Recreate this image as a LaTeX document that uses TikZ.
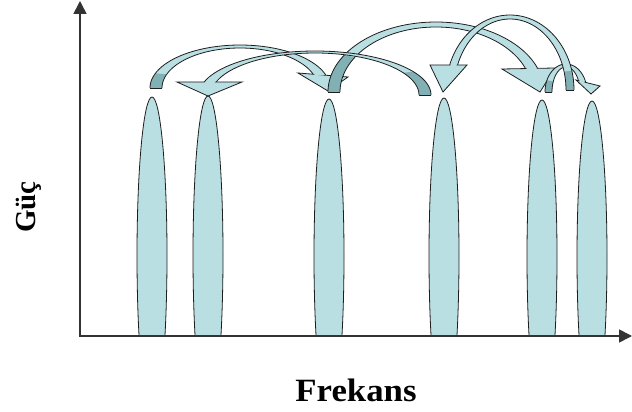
\documentclass[tikz,border=0pt]{standalone}
\usepackage{fontspec}
\setmainfont{Liberation Serif}
\usepackage{graphicx}
\usetikzlibrary{arrows.meta}
\definecolor{lightteal}{HTML}{B9DFE3}
\definecolor{darkteal}{HTML}{82B1B5}
\definecolor{edgecol}{HTML}{1E1E1E}
\tikzset{
  edgeline/.style={draw=edgecol, line width=0.8pt, line join=round},
  headshape/.style={fill=lightteal, draw=edgecol, line width=0.8pt, line join=miter},
  spikeshape/.style={fill=lightteal, draw=edgecol, line width=0.8pt},
  axisline/.style={draw=black!80, line width=1.6pt},
  labeltext/.style={font=\bfseries\fontsize{32.5}{34}\selectfont, inner sep=0pt},
}
% curved band: cx, cy, outer rx, outer ry, inner rx, inner ry, tail angle, dark-end angle, head angle
\newcommand{\arcband}[9]{%
  \fill[lightteal] plot[domain=#7:#9,samples=60] ({#1+#3*cos(\x)},{#2+#4*sin(\x)})
     -- plot[domain=#9:#7,samples=60] ({#1+#5*cos(\x)},{#2+#6*sin(\x)}) -- cycle;
  \fill[darkteal] plot[domain=#7:#8,samples=20] ({#1+#3*cos(\x)},{#2+#4*sin(\x)})
     -- plot[domain=#8:#7,samples=20] ({#1+#5*cos(\x)},{#2+#6*sin(\x)}) -- cycle;
  \draw[edgeline] plot[domain=#7:#9,samples=60] ({#1+#3*cos(\x)},{#2+#4*sin(\x)});
  \draw[edgeline] plot[domain=#7:#9,samples=60] ({#1+#5*cos(\x)},{#2+#6*sin(\x)});
  \draw[edgeline] ({#1+#3*cos(#7)},{#2+#4*sin(#7)}) -- ({#1+#5*cos(#7)},{#2+#6*sin(#7)});
}
% fill-only patch hiding the head base line inside the shaft
\newcommand{\bandpatch}[8]{%
  \fill[lightteal] plot[domain=#7:#8,samples=12] ({#1+(#3-1)*cos(\x)},{#2+(#4-0.6)*sin(\x)})
     -- plot[domain=#8:#7,samples=12] ({#1+(#5+1)*cos(\x)},{#2+(#6+0.6)*sin(\x)}) -- cycle;
}
\begin{document}
\begin{tikzpicture}[x=1pt,y=-1pt]
\useasboundingbox (0,0) rectangle (632,412);
\fill[white] (0,0) rectangle (632,412);

% spikes (channels)
\begin{scope}
  \clip (0,0) rectangle (632,335);
  \foreach \n/\sx/\st in {1/152/97, 2/208/96, 3/329/99, 4/444/98, 5/542/100, 6/592/101} {
    \pgfmathsetmacro\sb{(335-\st)/1.499}
    \path[spikeshape] (\sx,{\st+\sb}) ellipse [x radius=15, y radius=\sb];
    \coordinate (s\n) at (\sx,\st);
  }
\end{scope}

% axes
\coordinate (origin) at (80,336);
\coordinate (ytop) at (80,1);
\coordinate (xend) at (632,336);
\draw[axisline, -{Triangle[width=13pt,length=13pt]}] (origin) -- (ytop);
\draw[axisline, -{Triangle[width=13pt,length=13pt]}] (79.2,336) -- (xend);

% hop arrows
\coordinate (h1) at (328,91);
\coordinate (h2) at (208,96);
\coordinate (h3) at (540,92);
\coordinate (h4) at (443,92);
\coordinate (h5) at (591,94);

% 1: channel 1 -> channel 3
\arcband{240}{88}{90}{43}{78}{40}{180}{200}{342}
\filldraw[headshape] (298,73) -- (h1) -- (348,77) -- cycle;
\bandpatch{240}{88}{90}{43}{78}{40}{334}{342}

% 3: channel 3 -> channel 5
\arcband{436}{92}{108}{70}{96}{65}{180}{212}{341}
\filldraw[headshape] (502,69) -- (h3) -- (555,68) -- cycle;
\bandpatch{436}{92}{108}{70}{96}{65}{333}{341}

% 2: channel 4 -> channel 2
\arcband{315}{95}{116}{44}{104}{42}{360}{328}{196}
\filldraw[headshape] (177,82) -- (h2) -- (242,82) -- cycle;
\bandpatch{315}{95}{116}{44}{104}{42}{204}{196}

% 5: channel 5 -> channel 6
\arcband{566}{92}{21}{28}{14}{25}{180}{205}{340}
\filldraw[headshape] (576,80) -- (h5) -- (600,86) -- cycle;
\bandpatch{566}{92}{21}{28}{14}{25}{328}{340}

% 4: -> channel 4
\arcband{510}{90}{64}{75}{56}{71}{360}{345}{197}
\filldraw[headshape] (430,65) -- (h4) -- (467,65) -- cycle;
\bandpatch{510}{90}{64}{75}{56}{71}{205}{197}

% labels
\node[labeltext, anchor=base] (xlabel) at (356,401.5) {\scalebox{1.07}[1]{Frekans}};
\node[labeltext, font=\bfseries\fontsize{29}{31}\selectfont, rotate=90, anchor=base] (ylabel) at (35,207) {Güç};
\end{tikzpicture}
\end{document}
